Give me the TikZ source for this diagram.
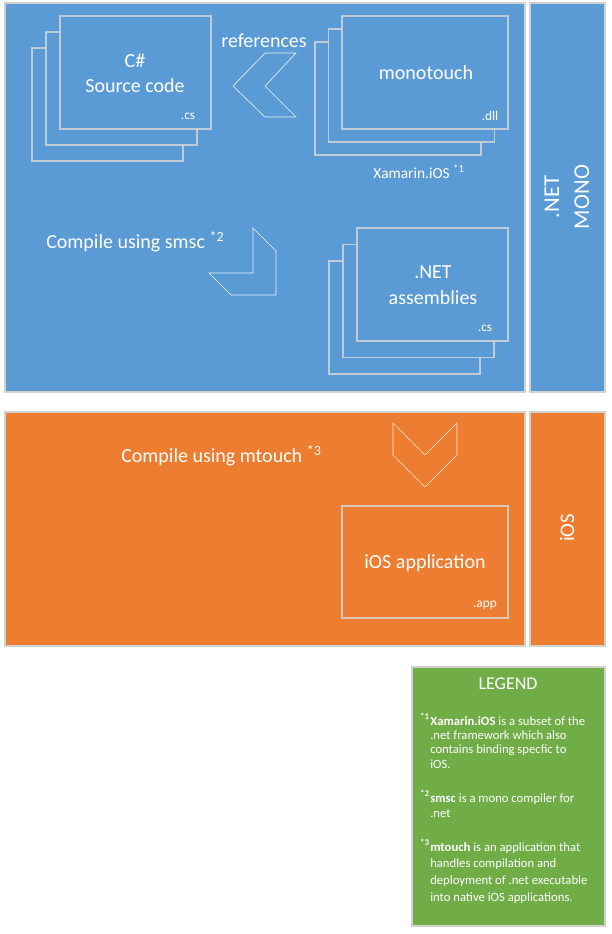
\documentclass[tikz,border=0pt]{standalone}
\usepackage{fontspec}
\setmainfont{Carlito}
\definecolor{netblue}{HTML}{5B9BD5}
\definecolor{iosorange}{HTML}{ED7D31}
\definecolor{legendgreen}{HTML}{70AD47}
\tikzset{
	panel/.style={draw=black!18,line width=0.9pt},
	filebox/.style={draw=black!15,draw opacity=0.8,line width=0.9pt},
	chevron/.style={draw=white,draw opacity=0.85,line width=0.5pt},
	boxtext/.style={text=white,inner sep=0pt,align=center,font=\fontsize{15}{19}\selectfont},
	exttext/.style={text=white,inner sep=0pt,font=\fontsize{10}{12}\selectfont},
	sidetext/.style={text=white,inner sep=0pt,align=center,rotate=90,font=\fontsize{17}{22.5}\selectfont},
	legendtitle/.style={text=white,inner sep=0pt,font=\fontsize{13.5}{16}\selectfont},
	legendtext/.style={text=white,inner sep=0pt,align=left,font=\fontsize{9.5}{10.8}\selectfont}
}
\begin{document}
\begin{tikzpicture}[x=0.75pt,y=-0.75pt]
	\useasboundingbox (0,0) rectangle (611,934);
	\fill[white] (0,0) rectangle (611,934);
	%panels
	\draw[panel,fill=netblue] (5,3) rectangle (525,392);
	\draw[panel,fill=netblue] (530,3) rectangle (605,392);
	\draw[panel,fill=iosorange] (5,412) rectangle (525,646);
	\draw[panel,fill=iosorange] (530,412) rectangle (605,646);
	\draw[panel,fill=legendgreen] (412,667) rectangle (605,926);
	% file stacks
	\foreach \x/\y/\w/\h/\dx/\dy in {60/16/151/113/14/16,342/16/166/113/13.5/13,357/228/151/113/14/16.5}
		\foreach \k in {2,1,0}
			\draw[filebox,fill=netblue] (\x-\k*\dx,\y+\k*\dy) rectangle ++(\w,\h);
	\draw[filebox] (342,506) rectangle (508,618);
	%arrows
	\draw[chevron] (265,53) -- (296,53) -- (265,86) -- (296,117) -- (265,117) -- (233,86) -- cycle;
	\draw[chevron] (253,228) -- (276,251) -- (276,295) -- (231,295) -- (209,273) -- (253,273) -- cycle;
	\draw[chevron] (393,423) -- (425,455) -- (457,423) -- (457,455) -- (425,487) -- (393,455) -- cycle;
	%texts
	\node[boxtext] (source) at (135,73) {C\#\\Source code};
	\node[exttext] (sourceext) at (188,116) {.cs};
	\node[boxtext] (ref) at (264,41) {references};
	\node[boxtext] (monotouch) at (426,73) {monotouch};
	\node[exttext] (monoext) at (490,116) {.dll};
	\node[exttext,font=\fontsize{11.5}{13}\selectfont] (xamarin) at (419,172) {Xamarin.iOS \textsuperscript{*1}};
	\node[boxtext,anchor=west] (smsc) at (46,242) {Compile using smsc \textsuperscript{*2}};
	\node[boxtext] (assemblies) at (433,285) {.NET\\assemblies};
	\node[exttext] (assemblyext) at (485,328) {.cs};
	\node[boxtext,anchor=west] (mtouch) at (121,456) {Compile using mtouch \textsuperscript{*3}};
	\node[boxtext] (app) at (425,563) {iOS application};
	\node[exttext] (appext) at (485,605) {.app};
	\node[sidetext] (mono) at (567,197) {.NET\\MONO};
	\node[sidetext,font=\fontsize{15.5}{19}\selectfont] (ios) at (567,528) {iOS};
	%legend
	\node[legendtitle] (legend) at (508,684) {LEGEND};
	\foreach \y/\n/\lead/\rest/\sp in {716/1/Xamarin.iOS/{ is a subset of the\\.net framework which also\\contains binding specfic to\\iOS.}/10.8,
		793/2/smsc/{ is a mono compiler for\\.net}/11.5,
		842/3/mtouch/{ is an application that\\handles compilation and\\deployment of .net executable\\into native iOS applications.}/12.5}
		{
			\node[legendtext,anchor=north east] (mark\n) at (430,\y-3) {\textbf{\textsuperscript{*\n}}};
			\node[legendtext,anchor=north west,font=\fontsize{9.5}{\sp}\selectfont] (entry\n) at (430,\y) {\textbf{\lead}\rest};
		}
\end{tikzpicture}
\end{document}
